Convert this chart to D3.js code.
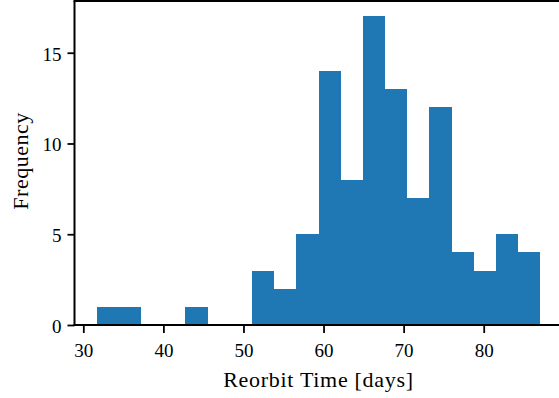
<!DOCTYPE html>
<html>
<head>
<meta charset="utf-8">
<script src="https://cdn.jsdelivr.net/npm/d3@7"></script>
<style>
  html, body { margin: 0; padding: 0; background: #fff; }
  svg { display: block; }
  text { font-family: "Liberation Serif", "Times New Roman", serif; fill: #000; }
</style>
</head>
<body>
<svg id="chart" width="559" height="398"></svg>
<script>
// Histogram bin edges (days)
const binEdges = [31.67, 34.44, 37.21, 39.98, 42.75, 45.52, 48.29, 51.06, 53.83, 56.60,
                  59.37, 62.14, 64.91, 67.68, 70.45, 73.22, 75.99, 78.76, 81.53, 84.30, 87.07];
// Counts per bin
const counts = [1, 1, 0, 0, 1, 0, 0, 3, 2, 5, 14, 8, 17, 13, 7, 12, 4, 3, 5, 4];
const xTicks = [30, 40, 50, 60, 70, 80];
const yTicks = [0, 5, 10, 15];
const xLabel = "Reorbit Time [days]";
const yLabel = "Frequency";

(function () {
const bins = counts.map((c, i) => ({ x0: binEdges[i], x1: binEdges[i + 1], count: c }));

const svg = d3.select("#chart");
const mLeft = 74.5, mRight = 562.5, mTop = 1, mBottom = 325;

const lo = binEdges[0], hi = binEdges[binEdges.length - 1];
const pad = (hi - lo) * 0.05;
const x = d3.scaleLinear().domain([lo - pad, hi + pad]).range([mLeft, mRight]);
const yMax = d3.max(counts) * 1.05;
const y = d3.scaleLinear().domain([0, yMax]).range([mBottom, mTop]);

// Bars
svg.append("g").attr("shape-rendering", "crispEdges")
  .selectAll("rect").data(bins).join("rect")
  .attr("x", d => x(d.x0))
  .attr("width", d => x(d.x1) - x(d.x0))
  .attr("y", d => y(d.count))
  .attr("height", d => y(0) - y(d.count))
  .attr("fill", "#1f77b4");

// Axes
const xAxis = d3.axisBottom(x).tickValues(xTicks).tickSize(8).tickPadding(6).tickFormat(d3.format("d"));
const yAxis = d3.axisLeft(y).tickValues(yTicks).tickSize(7).tickPadding(6).tickFormat(d3.format("d"));

const gx = svg.append("g").attr("transform", `translate(0,${mBottom})`).call(xAxis);
const gy = svg.append("g").attr("transform", `translate(${mLeft},0)`).call(yAxis);

[gx, gy].forEach(g => {
  g.select(".domain").remove();
  g.selectAll(".tick line").attr("stroke", "#000").attr("stroke-width", 1.8);
  g.selectAll(".tick text").style("font-size", "19px").attr("fill", "#000");
});
gx.selectAll(".tick text").attr("dy", null).attr("y", 32);
gy.selectAll(".tick text").attr("dy", null).attr("y", 7.5).attr("x", -13);

// Spines
const spines = svg.append("g").attr("stroke", "#000").attr("stroke-width", 2).attr("fill", "none");
spines.append("line").attr("x1", mLeft).attr("x2", mLeft).attr("y1", mTop).attr("y2", mBottom + 1);
spines.append("line").attr("x1", mLeft - 1).attr("x2", mRight + 1).attr("y1", mBottom).attr("y2", mBottom);
spines.append("line").attr("x1", mLeft - 1).attr("x2", mRight + 1).attr("y1", mTop).attr("y2", mTop);
spines.append("line").attr("x1", mRight).attr("x2", mRight).attr("y1", mTop).attr("y2", mBottom + 1);

// Axis labels
svg.append("text")
  .attr("x", (mLeft + mRight) / 2)
  .attr("y", 387)
  .attr("text-anchor", "middle")
  .style("font-size", "22px")
  .style("letter-spacing", "0.7px")
  .text(xLabel);

svg.append("text")
  .attr("transform", `translate(28,${(mTop + mBottom) / 2 - 2}) rotate(-90)`)
  .attr("text-anchor", "middle")
  .style("font-size", "22px")
  .style("letter-spacing", "0.5px")
  .text(yLabel);
})();
</script>
</body>
</html>
